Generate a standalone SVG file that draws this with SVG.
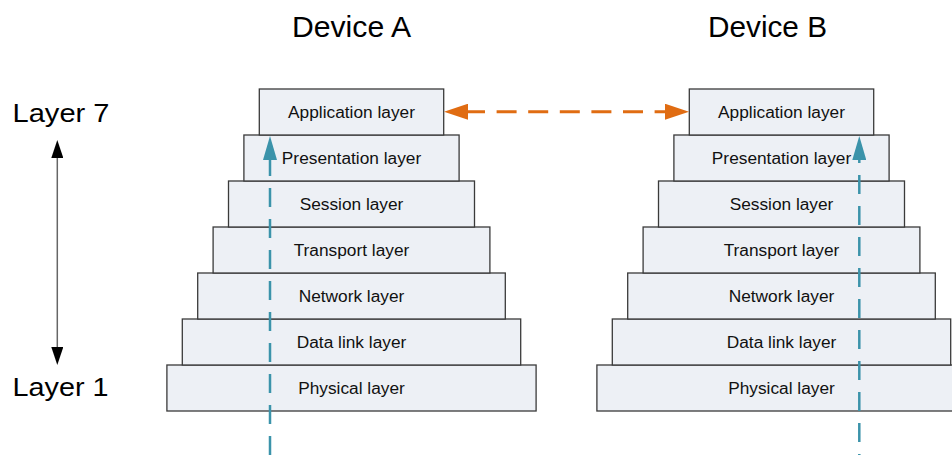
<svg xmlns="http://www.w3.org/2000/svg" width="952" height="455" viewBox="0 0 952 455">
<style>
.box{fill:#EDF0F5;stroke:#3A3A3A;stroke-width:1.3}
.lbl{font-family:"Liberation Sans",Arial,sans-serif;font-size:17.3px;fill:#111;text-anchor:middle}
.title{font-family:"Liberation Sans",Arial,sans-serif;font-size:29px;fill:#000}
.side{font-family:"Liberation Sans",Arial,sans-serif;font-size:26px;fill:#000}
.teal{fill:none;stroke:#3B93AA;stroke-width:2.5;stroke-dasharray:19 12}
.orange{fill:none;stroke:#E06C12;stroke-width:3;stroke-dasharray:20 11.6}
.blk{fill:none;stroke:#666;stroke-width:1.5}
</style>
<defs>
<marker id="mTeal" markerUnits="userSpaceOnUse" markerWidth="24" markerHeight="14" refX="0" refY="7" orient="auto"><path d="M0,0 L24,7 L0,14 z" fill="#3B93AA"/></marker>
<marker id="mOrange" markerUnits="userSpaceOnUse" markerWidth="24" markerHeight="16" refX="0" refY="8" orient="auto-start-reverse"><path d="M0,0 L24,8 L0,16 z" fill="#E06C12"/></marker>
<marker id="mBlk" markerUnits="userSpaceOnUse" markerWidth="18" markerHeight="12" refX="0" refY="6" orient="auto-start-reverse"><path d="M0,0 L18,6 L0,12 z" fill="#000"/></marker>
</defs>

<text class="title" x="292" y="37" textLength="119" lengthAdjust="spacingAndGlyphs">Device A</text>
<text class="title" x="708" y="37" textLength="119" lengthAdjust="spacingAndGlyphs">Device B</text>
<text class="side" x="12.5" y="122" textLength="97" lengthAdjust="spacingAndGlyphs">Layer 7</text>
<text class="side" x="12.5" y="396" textLength="96" lengthAdjust="spacingAndGlyphs">Layer 1</text>

<g id="deviceA">
<g id="A-physical"><rect class="box" x="166.9" y="365" width="369.2" height="46"/><text class="lbl" x="351.5" y="394">Physical layer</text></g>
<g id="A-datalink"><rect class="box" x="182.3" y="319" width="338.4" height="46"/><text class="lbl" x="351.5" y="348">Data link layer</text></g>
<g id="A-network"><rect class="box" x="197.7" y="273" width="307.6" height="46"/><text class="lbl" x="351.5" y="302">Network layer</text></g>
<g id="A-transport"><rect class="box" x="213.1" y="227" width="276.8" height="46"/><text class="lbl" x="351.5" y="256">Transport layer</text></g>
<g id="A-session"><rect class="box" x="228.5" y="181" width="246" height="46"/><text class="lbl" x="351.5" y="210">Session layer</text></g>
<g id="A-presentation"><rect class="box" x="243.9" y="135" width="215.2" height="46"/><text class="lbl" x="351.5" y="164">Presentation layer</text></g>
<g id="A-application"><rect class="box" x="259.3" y="89" width="184.4" height="46"/><text class="lbl" x="351.5" y="118">Application layer</text></g>
</g>

<g id="deviceB">
<g id="B-physical"><rect class="box" x="596.9" y="365" width="369.2" height="46"/><text class="lbl" x="781.5" y="394">Physical layer</text></g>
<g id="B-datalink"><rect class="box" x="612.3" y="319" width="338.4" height="46"/><text class="lbl" x="781.5" y="348">Data link layer</text></g>
<g id="B-network"><rect class="box" x="627.7" y="273" width="307.6" height="46"/><text class="lbl" x="781.5" y="302">Network layer</text></g>
<g id="B-transport"><rect class="box" x="643.1" y="227" width="276.8" height="46"/><text class="lbl" x="781.5" y="256">Transport layer</text></g>
<g id="B-session"><rect class="box" x="658.5" y="181" width="246" height="46"/><text class="lbl" x="781.5" y="210">Session layer</text></g>
<g id="B-presentation"><rect class="box" x="673.9" y="135" width="215.2" height="46"/><text class="lbl" x="781.5" y="164">Presentation layer</text></g>
<g id="B-application"><rect class="box" x="689.3" y="89" width="184.4" height="46"/><text class="lbl" x="781.5" y="118">Application layer</text></g>
</g>

<g id="connectors">
<path class="teal" d="M270,455 L270,160" marker-end="url(#mTeal)"/>
<path class="teal" d="M859.3,455 L859.3,160" style="stroke-dashoffset:18" marker-end="url(#mTeal)"/>
<path class="orange" d="M468,111.7 L665,111.7" style="stroke-dashoffset:3" marker-start="url(#mOrange)" marker-end="url(#mOrange)"/>
<path class="blk" d="M57.3,158 L57.3,347" marker-start="url(#mBlk)" marker-end="url(#mBlk)"/>
</g>
</svg>
